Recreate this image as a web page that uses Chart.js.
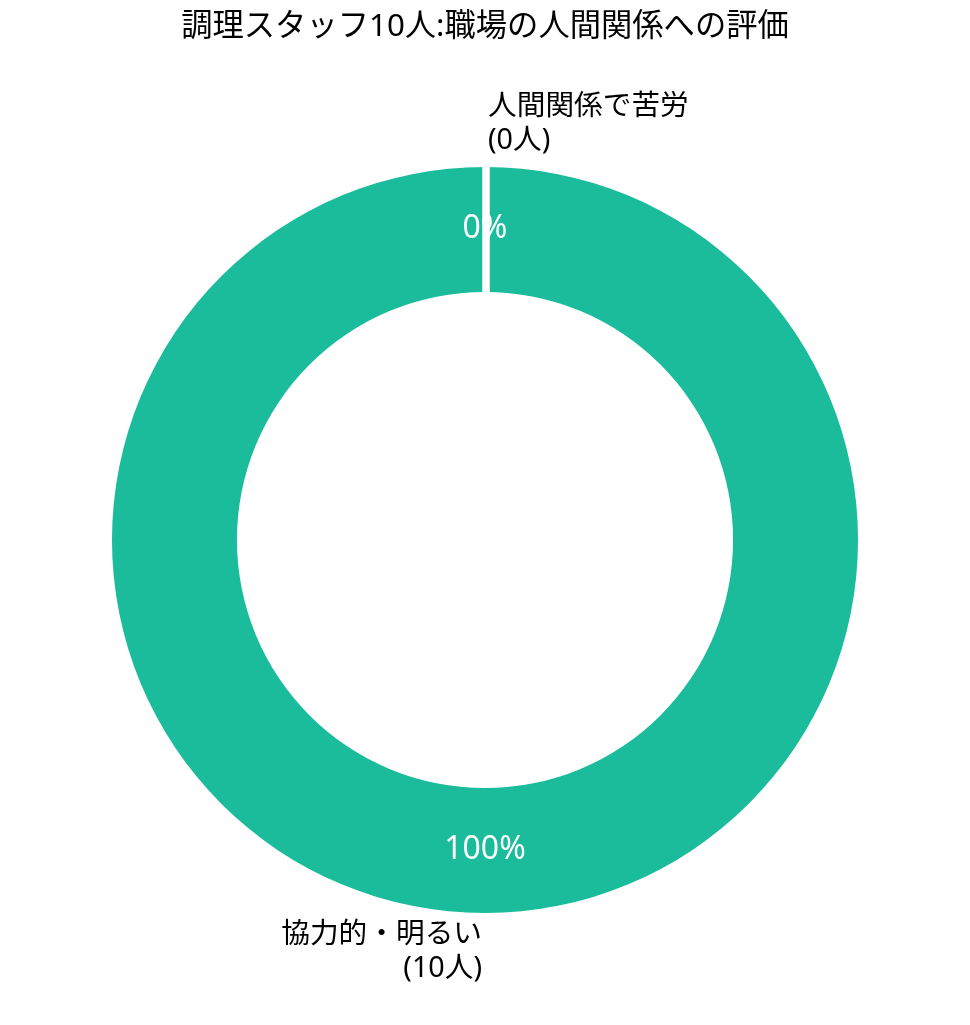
<!DOCTYPE html>
<html>
<head>
<meta charset="utf-8">
<script src="https://cdn.jsdelivr.net/npm/chart.js@4"></script>
<style>
  html, body { margin: 0; padding: 0; background: #ffffff; }
  #wrap { width: 970px; height: 1025px; position: relative; }
</style>
</head>
<body>
<div id="wrap"><canvas id="c" width="970" height="1025"></canvas></div>
<script>
const chartTitle = "調理スタッフ10人:職場の人間関係への評価";
const categories = ["人間関係で苦労", "協力的・明るい"];
const counts = [0, 10];
const percentLabels = ["0%", "100%"];
const countLabels = ["(0人)", "(10人)"];
const sliceColors = ["#E74C3C", "#1ABC9C"];

const FONT = "'Noto Sans', 'Noto Sans CJK JP', sans-serif";

const labelPlugin = {
  id: 'pieLabels',
  afterDatasetsDraw(chart) {
    const ctx = chart.ctx;
    const meta = chart.getDatasetMeta(0);
    // white separator edge at slice boundaries
    ctx.save();
    ctx.strokeStyle = '#ffffff';
    ctx.lineWidth = 7;
    meta.data.forEach((arc) => {
      const p = arc.getProps(['x', 'y', 'startAngle', 'endAngle', 'innerRadius', 'outerRadius'], true);
      const a = p.startAngle;
      ctx.beginPath();
      ctx.moveTo(p.x + 1 + Math.cos(a) * (p.innerRadius - 1), p.y + Math.sin(a) * (p.innerRadius - 1));
      ctx.lineTo(p.x + 1 + Math.cos(a) * (p.outerRadius + 1), p.y + Math.sin(a) * (p.outerRadius + 1));
      ctx.stroke();
    });
    ctx.restore();

    meta.data.forEach((arc, i) => {
      const p = arc.getProps(['x', 'y', 'startAngle', 'endAngle', 'innerRadius', 'outerRadius'], true);
      const mid = (p.startAngle + p.endAngle) / 2;
      const cosv = Math.cos(mid), sinv = Math.sin(mid);
      // percent inside ring
      const midR = (p.innerRadius + p.outerRadius) / 2;
      ctx.save();
      ctx.fillStyle = '#ffffff';
      ctx.font = "32px " + FONT;
      ctx.textAlign = 'center';
      ctx.textBaseline = 'middle';
      ctx.fillText(percentLabels[i], p.x + cosv * midR, p.y + sinv * midR - 1);
      ctx.restore();
      // outer label
      const lr = p.outerRadius * 1.11;
      const lx = p.x + cosv * lr;
      const ly = p.y + sinv * lr - 2;
      const align = (i === 0 || cosv > 1e-9) ? 'left' : 'right';
      ctx.save();
      ctx.fillStyle = '#000000';
      ctx.font = "28.7px " + FONT;
      ctx.textAlign = align;
      ctx.textBaseline = 'middle';
      const dx = align === 'left' ? 3 : -3;
      ctx.fillText(categories[i], lx + dx, ly - 17);
      ctx.fillText(countLabels[i], lx + dx, ly + 17);
      ctx.restore();
    });
  }
};

new Chart(document.getElementById('c'), {
  type: 'doughnut',
  data: {
    labels: categories,
    datasets: [{
      data: counts,
      backgroundColor: sliceColors,
      borderWidth: 0,
      hoverOffset: 0
    }]
  },
  options: {
    responsive: false,
    animation: false,
    events: [],
    rotation: 0,
    circumference: 360,
    cutout: '66.5%',
    layout: { padding: { top: 0, bottom: 112, left: 0, right: 0 } },
    plugins: {
      legend: { display: false },
      tooltip: { enabled: false },
      title: {
        display: true,
        text: chartTitle,
        color: '#000000',
        font: { family: FONT, size: 31.3, weight: 'normal', lineHeight: 1.2 },
        padding: { top: 8, bottom: 121.4 }
      }
    }
  },
  plugins: [labelPlugin]
});
</script>
</body>
</html>
